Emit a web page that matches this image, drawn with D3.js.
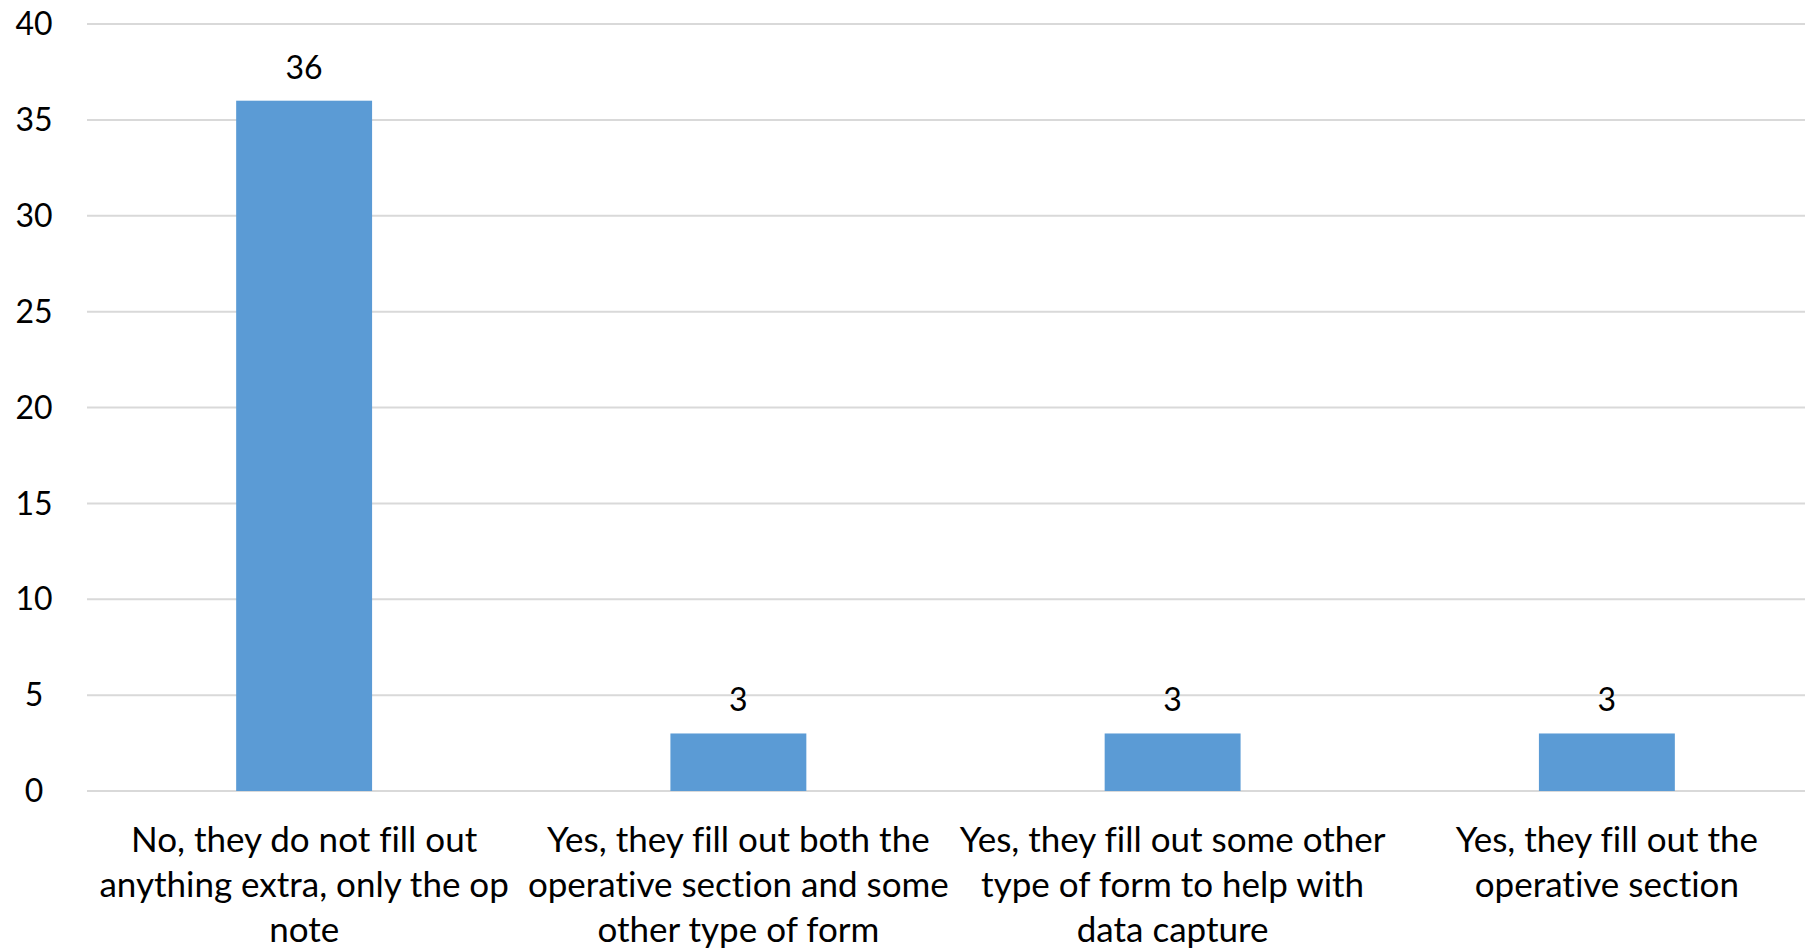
<!DOCTYPE html>
<html><head><meta charset="utf-8">
<script src="https://cdn.jsdelivr.net/npm/d3@7"></script>
<style>html,body{margin:0;padding:0;background:#fff;overflow:hidden} text{font-variant-ligatures:none;font-feature-settings:"liga" 0}</style>
</head><body>
<svg id="c" width="1805" height="949"></svg>
<script>
const categories = [
  "No, they do not fill out anything extra, only the op note",
  "Yes, they fill out both the operative section and some other type of form",
  "Yes, they fill out some other type of form to help with data capture",
  "Yes, they fill out the operative section"
];
const categoryLines = [
  ["No, they do not fill out", "anything extra, only the op", "note"],
  ["Yes, they fill out both the", "operative section and some", "other type of form"],
  ["Yes, they fill out some other", "type of form to help with", "data capture"],
  ["Yes, they fill out the", "operative section"]
];
const values = [36, 3, 3, 3];
const yTicks = [0, 5, 10, 15, 20, 25, 30, 35, 40];

(function () {
const svg = d3.select("#c");
const mLeft = 87, mRight = 1824, mTop = 24, mBottom = 791;
const font = "Lato, 'Open Sans', sans-serif";

const x = d3.scaleBand().domain(categories).range([mLeft, mRight])
  .paddingInner(0.687).paddingOuter(0.3435);
const y = d3.scaleLinear().domain([0, 40]).range([mBottom, mTop]);

// gridlines
svg.append("g").selectAll("line").data(yTicks).join("line")
  .attr("x1", mLeft).attr("x2", mRight)
  .attr("y1", d => y(d)).attr("y2", d => y(d))
  .attr("stroke", "#d9d9d9").attr("stroke-width", 2);

// y tick labels
svg.append("g").selectAll("text").data(yTicks).join("text")
  .attr("x", 34).attr("y", d => y(d)).attr("dy", "0.35em")
  .attr("text-anchor", "middle")
  .attr("font-family", font).attr("font-size", 32).attr("fill", "#000")
  .text(d => d);

// bars
svg.append("g").selectAll("rect").data(values).join("rect")
  .attr("x", (d, i) => x(categories[i]))
  .attr("width", x.bandwidth())
  .attr("y", d => y(d))
  .attr("height", d => y(0) - y(d))
  .attr("fill", "#5b9bd5");

// value labels
svg.append("g").selectAll("text").data(values).join("text")
  .attr("x", (d, i) => x(categories[i]) + x.bandwidth() / 2)
  .attr("y", d => y(d) - 22)
  .attr("text-anchor", "middle")
  .attr("font-family", font).attr("font-size", 32).attr("fill", "#000")
  .text(d => d);

// category labels
const cg = svg.append("g");
categoryLines.forEach((lines, i) => {
  const cx = x(categories[i]) + x.bandwidth() / 2;
  const t = cg.append("text")
    .attr("text-anchor", "middle")
    .attr("font-family", font).attr("font-size", 35).attr("fill", "#000");
  lines.forEach((ln, j) => {
    t.append("tspan").attr("x", cx).attr("y", 852 + j * 45).text(ln);
  });
});
})();
</script>
</body></html>
